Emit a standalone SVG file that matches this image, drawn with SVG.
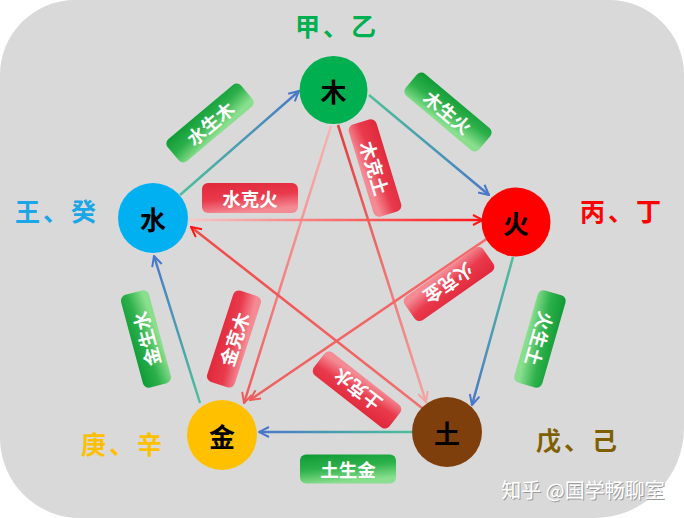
<svg xmlns="http://www.w3.org/2000/svg" width="684" height="518" viewBox="0 0 684 518">
<style>
text{font-family:"Noto Sans CJK SC","Noto Sans",sans-serif;font-weight:bold;text-anchor:middle;dominant-baseline:central}
.node text{font-size:26px;fill:#000}
.tag text{font-size:18.5px;fill:#fff}
.gtag rect{fill:url(#gGreen)}
.rtag rect{fill:url(#gRed)}
.side{font-size:25px;letter-spacing:3px}
.sheng{fill:none;stroke-width:2.5}
.ke{fill:none;stroke-width:2.5}
</style>
<defs>
<linearGradient id="gGreen" x1="0" y1="0" x2="0.3" y2="1">
<stop offset="0" stop-color="#0e9a36"/><stop offset="0.5" stop-color="#2cb04a"/><stop offset="1" stop-color="#8adf8e"/>
</linearGradient>
<linearGradient id="gRed" x1="0" y1="0" x2="0.3" y2="1">
<stop offset="0" stop-color="#e0283a"/><stop offset="0.55" stop-color="#e83a4c"/><stop offset="1" stop-color="#f48a94"/>
</linearGradient>
<linearGradient id="s1" gradientUnits="userSpaceOnUse" x1="180" y1="195" x2="299" y2="91"><stop offset="0" stop-color="#4cc09a"/><stop offset="1" stop-color="#4a78c8"/></linearGradient>
<linearGradient id="s2" gradientUnits="userSpaceOnUse" x1="369" y1="95" x2="489" y2="195"><stop offset="0" stop-color="#4cc09a"/><stop offset="1" stop-color="#4a78c8"/></linearGradient>
<linearGradient id="s3" gradientUnits="userSpaceOnUse" x1="513" y1="257" x2="472" y2="405"><stop offset="0" stop-color="#4cc09a"/><stop offset="1" stop-color="#4a78c8"/></linearGradient>
<linearGradient id="s4" gradientUnits="userSpaceOnUse" x1="412" y1="432" x2="259" y2="432"><stop offset="0" stop-color="#4cc09a"/><stop offset="1" stop-color="#4a78c8"/></linearGradient>
<linearGradient id="s5" gradientUnits="userSpaceOnUse" x1="200" y1="403" x2="154" y2="256"><stop offset="0" stop-color="#4cc09a"/><stop offset="1" stop-color="#4a78c8"/></linearGradient>
<linearGradient id="k1" gradientUnits="userSpaceOnUse" x1="338" y1="125" x2="426" y2="402"><stop offset="0" stop-color="#e63a3a"/><stop offset="1" stop-color="#f4a4a4"/></linearGradient>
<linearGradient id="k2" gradientUnits="userSpaceOnUse" x1="331" y1="126" x2="244" y2="403"><stop offset="0" stop-color="#f6b4b4"/><stop offset="1" stop-color="#f05a5a"/></linearGradient>
<linearGradient id="k3" gradientUnits="userSpaceOnUse" x1="488" y1="238" x2="250" y2="400"><stop offset="0" stop-color="#f46a6a"/><stop offset="1" stop-color="#f06060"/></linearGradient>
<linearGradient id="k4" gradientUnits="userSpaceOnUse" x1="422" y1="408" x2="191" y2="227"><stop offset="0" stop-color="#f27070"/><stop offset="1" stop-color="#f04848"/></linearGradient>
<linearGradient id="k5" gradientUnits="userSpaceOnUse" x1="189" y1="220" x2="483" y2="220"><stop offset="0" stop-color="#f6c8c8"/><stop offset="1" stop-color="#ff1414"/></linearGradient>
<marker id="aBlue" viewBox="0 0 12 12" refX="11" refY="6" markerWidth="12" markerHeight="12" markerUnits="userSpaceOnUse" orient="auto"><path d="M1,1 L11,6 L1,11" fill="none" stroke="#4a78c8" stroke-width="2"/></marker>
<marker id="aRed" viewBox="0 0 12 12" refX="11" refY="6" markerWidth="12" markerHeight="12" markerUnits="userSpaceOnUse" orient="auto"><path d="M1,1 L11,6 L1,11" fill="none" stroke="#ff1414" stroke-width="2"/></marker>
<marker id="aPink" viewBox="0 0 12 12" refX="11" refY="6" markerWidth="12" markerHeight="12" markerUnits="userSpaceOnUse" orient="auto"><path d="M1,1 L11,6 L1,11" fill="none" stroke="#f4a4a4" stroke-width="2"/></marker>
<marker id="aSalmon" viewBox="0 0 12 12" refX="11" refY="6" markerWidth="12" markerHeight="12" markerUnits="userSpaceOnUse" orient="auto"><path d="M1,1 L11,6 L1,11" fill="none" stroke="#f05a5a" stroke-width="2"/></marker>
</defs>
<rect width="684" height="518" fill="#ffffff"/>
<path id="bg" d="M75,0 H609 A75,75 0 0 1 684,75 V428 A90,90 0 0 1 594,518 H80 A80,80 0 0 1 0,438 V75 A75,75 0 0 1 75,0 Z" fill="#d9d9d9"/>
<g id="connectors">
<line class="sheng" x1="180" y1="195" x2="299" y2="91" stroke="url(#s1)" marker-end="url(#aBlue)"/>
<line class="sheng" x1="369" y1="95" x2="489" y2="195" stroke="url(#s2)" marker-end="url(#aBlue)"/>
<line class="sheng" x1="513" y1="257" x2="472" y2="405" stroke="url(#s3)" marker-end="url(#aBlue)"/>
<line class="sheng" x1="412" y1="432" x2="259" y2="432" stroke="url(#s4)" marker-end="url(#aBlue)"/>
<line class="sheng" x1="200" y1="403" x2="154" y2="256" stroke="url(#s5)" marker-end="url(#aBlue)"/>
<line class="ke" x1="338" y1="125" x2="426" y2="402" stroke="url(#k1)" marker-end="url(#aPink)"/>
<line class="ke" x1="331" y1="126" x2="244" y2="403" stroke="url(#k2)" marker-end="url(#aSalmon)"/>
<line class="ke" x1="488" y1="238" x2="250" y2="400" stroke="url(#k3)" marker-end="url(#aSalmon)"/>
<line class="ke" x1="422" y1="408" x2="191" y2="227" stroke="url(#k4)" marker-end="url(#aRed)"/>
<line class="ke" x1="189" y1="220" x2="483" y2="220" stroke="url(#k5)" marker-end="url(#aRed)"/>
</g>
<g id="node-mu" class="node"><circle cx="333.5" cy="90" r="34" fill="#00b050"/><text x="333.5" y="90">木</text></g>
<g id="node-huo" class="node"><circle cx="516" cy="222" r="34.5" fill="#ff0000"/><text x="516" y="222">火</text></g>
<g id="node-shui" class="node"><circle cx="153" cy="218" r="35" fill="#00b0f0"/><text x="153" y="218">水</text></g>
<g id="node-jin" class="node"><circle cx="222" cy="435" r="35" fill="#ffc000"/><text x="222" y="435">金</text></g>
<g id="node-tu" class="node"><circle cx="447" cy="432" r="35" fill="#7f3f0c"/><text x="447" y="432">土</text></g>
<g id="side-labels">
<text class="side" x="337" y="25" fill="#00b050">甲、乙</text>
<text class="side" x="622" y="210" fill="#ff0000">丙、丁</text>
<text class="side" x="57" y="210" fill="#1ba6e6">王、癸</text>
<text class="side" x="123" y="443" fill="#ffc000">庚、辛</text>
<text class="side" x="578" y="439" fill="#7f6000">戊、己</text>
</g>
<g id="tag-shui-sheng-mu" class="tag gtag" transform="translate(210,123) rotate(-40)"><rect x="-48" y="-14.5" width="96" height="29" rx="6"/><text>水生木</text></g>
<g id="tag-mu-sheng-huo" class="tag gtag" transform="translate(448,112) rotate(40)"><rect x="-48" y="-14.5" width="96" height="29" rx="6"/><text>木生火</text></g>
<g id="tag-huo-sheng-tu" class="tag gtag" transform="translate(540,339) rotate(106)"><rect x="-48" y="-14.5" width="96" height="29" rx="6"/><text>火生土</text></g>
<g id="tag-tu-sheng-jin" class="tag gtag" transform="translate(348,469)"><rect x="-48" y="-14.5" width="96" height="29" rx="6"/><text>土生金</text></g>
<g id="tag-jin-sheng-shui" class="tag gtag" transform="translate(146,339) rotate(-105)"><rect x="-48" y="-14.5" width="96" height="29" rx="6"/><text>金生水</text></g>
<g id="tag-shui-ke-huo" class="tag rtag" transform="translate(250,198)"><rect x="-48" y="-15" width="96" height="30" rx="6"/><text>水克火</text></g>
<g id="tag-mu-ke-tu" class="tag rtag" transform="translate(375,168) rotate(73)"><rect x="-48" y="-14.5" width="96" height="29" rx="6"/><text>木克土</text></g>
<g id="tag-huo-ke-jin" class="tag rtag" transform="translate(449,284) rotate(145)"><rect x="-48" y="-14.5" width="96" height="29" rx="6"/><text>火克金</text></g>
<g id="tag-tu-ke-shui" class="tag rtag" transform="translate(357,390) rotate(218)"><rect x="-48" y="-14.5" width="96" height="29" rx="6"/><text>土克水</text></g>
<g id="tag-jin-ke-mu" class="tag rtag" transform="translate(234,339) rotate(-72)"><rect x="-48" y="-14.5" width="96" height="29" rx="6"/><text>金克木</text></g>
<text x="584" y="490" style="font-size:20px;font-weight:normal;fill:#9a9a9a">知乎 @国学畅聊室</text>
<text x="583" y="489" style="font-size:20px;font-weight:normal;fill:#ffffff">知乎 @国学畅聊室</text>
</svg>
